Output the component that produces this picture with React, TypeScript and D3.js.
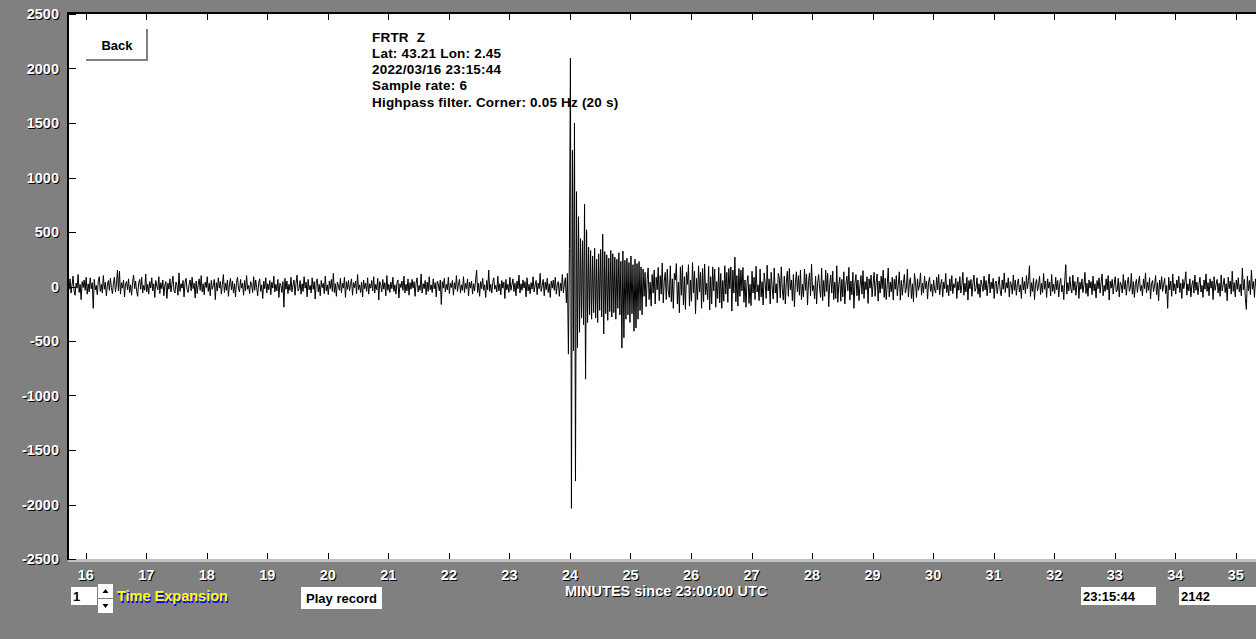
import React from "react";
import * as d3 from "d3";

// ---- data ----
const yTicks = [2500, 2000, 1500, 1000, 500, 0, -500, -1000, -1500, -2000, -2500];
const xTicks = [16, 17, 18, 19, 20, 21, 22, 23, 24, 25, 26, 27, 28, 29, 30, 31, 32, 33, 34, 35];
const headerLines = [
  "FRTR  Z",
  "Lat: 43.21 Lon: 2.45",
  "2022/03/16 23:15:44",
  "Sample rate: 6",
  "Highpass filter. Corner: 0.05 Hz (20 s)",
];
const sampleSeconds = 1;
const preEventStart = 15.708;
const eventStart = 23.958;
const codaStart = 25.208;
const postEventStart = 26.808;

const preEvent = [
  40, -25, 70, -60, 15, 95, -40, -80, 30, -15, 110, -55, 20, -120, 45, -10, 60, -35, 85, -70,
  25, -50, 80, -20, 35, -200, 65, -30, 10, -75, 50, 90, -45, 20, -60, 100, -25, 40, -85, 15,
  55, -35, 75, -10, -65, 30, 85, -50, 20, 150, -40, 140, -70, 35, -15, 60, -95, 25, 45, -30,
  70, -55, 15, -80, 40, 105, -20, 50, -45, -90, 30, 65, -25, 85, -60, 10, -35, 115, -50, 20,
  -70, 45, -15, 80, -40, 25, -100, 55, 5, -30, 90, -65, 35, -20, 60, -85, 15, 45, -110, 30,
  -25, 70, -50, 20, 95, -35, -60, 40, 10, -80, 125, -45, 25, -15, 55, -95, 35, 75, -30, -55,
  20, 60, -40, 85, -20, 30, -105, 50, -65, 15, 70, -35, 100, -50, 25, -75, 40, -10, 90, -45,
  30, -85, 55, -25, 10, 65, -120, 35, -40, 80, -15, 45, -70, 20, 110, -55, 30, -35, 60, -90,
  15, 75, -30, 50, -60, 25, -95, 40, 85, -20, -50, 65, -15, 30, -80, 55, -40, 100, -25, 10,
  -65, 45, 20, -55, 90, -35, 60, -10, -85, 35, 70, -45, 15, -110, 50, -20, 80, -60, 25, -30,
  55, -75, 40, -15, 95, -50, 20, -40, 65, -100, 30, 10, -55, 45, -190, 75, -25, 50, -65, 20,
  -35, 85, -50, 15, 60, -80, 30, 105, -40, -20, 55, -70, 25, -45, 90, -15, 40, -95, 65, -30,
  10, -60, 80, -25, 45, -115, 35, 70, -50, 20, -85, 55, -10, 30, -65, 95, -40, 15, -75, 50,
  -20, 65, -45, 120, -55, 25, -90, 40, 10, -35, 75, -60, 30, -15, 85, -100, 45, -25, 55, -40,
  20, 70, -80, 35, -10, 50, -65, 110, -30, 15, -55, 40, -95, 60, -20, 30, -45, 80, -70, 25,
  -15, 55, -40, 90, -60, 20, -30, 75, -125, 45, 10, -50, 65, -25, 35, -85, 100, -35, 20, -55,
  40, -20, 85, -45, 15, -70, 30, 60, -105, 25, -10, 50, -35, 95, -60, 20, -40, 70, -80, 35,
  -25, 65, -15, 45, -90, 30, 80, -50, 10, -35, 115, -60, 25, -20, 55, -75, 40, -45, 90, -30,
  15, -55, 70, -20, 35, -95, 50, 25, -40, 60, -165, 45, -15, 75, -50, 20, -30, 85, -65, 30,
  -10, 55, -80, 35, -25, 100, -45, 20, 65, -60, 15, -35, 90, -55, 30, -20, 70, -85, 40, -15,
  50, -70, 25, -40, 60, 150, -55, 30, -90, 45, -20, 75, -35, 15, -100, 55, -30, 150, -45, 20,
  -60, 35, 80, -25, 10, -50, 95, -40, 25, -75, 55, -15, 40, -110, 65, -30, 20, -55, 85, -35,
  15, 70, -45, 30, -85, 50, -20, 105, -60, 25, -35, 60, -15, 45, -95, 80, -40, 20, -65, 35,
  -25, 90, -50, 15, 55, -75, 30, -20, 120, -45, 10, 65, -85, 40, -30, 75, -55, 25, -100, 50,
  -15, 60, -35, 85, -70, 20, 45, -90, 30, -40, 110, -60, 25, 80, -150,
];

const eventBurst = [
  120, -620, 350, 2095, -2035, 1250, -590, 1500, -1785, 870, -560, 640, -420, 440, -290, 420, -350, 755, -850, 520, -330,
  360, -260, 330, -300, 280, -240, 350, -290, 250, -330, 300, -220, 340, -280,
  480, -435, 320, -250, 290, -310, 260, -230, 330, -280,
  300, -240, 270, -300, 250, -200, 310, -260, 230, -565,
  325, -470, 240, -300, 260, -260, 220, -330, 280, -250,
  200, -410, 250, -380, 210, -300, 230, -220, 180, -260,
];

const coda = [
  160, -90, 130, -185, 60, 170, -120, 40, -180, 110, -60, 150, -160, 85, -30, 175, -130, 100, -70, 215,
  -150, 50, 130, -120, 160, -45, -100, 190, -140, 70,
  -200, 120, 60, 210, -160, 40, -240, 180, -80, 195,
  -170, 90, -210, 130, 20, 200, -180, 60, -135, 220,
  -60, 140, -250, 75, -120, 190, -50, 130, -200, 165,
  -140, 205, -75, 30, -120, 185, -215, 90, -160, 180,
  -40, 160, -190, 45, -110, 175, -150, 120, -200, 55,
  -135, 190, -70, 130, -145, 165, -20, 180, -225, 150,
  -60, 270, -140, 100, -180, 165,
];

const postEvent = [
  -90, 150, -40, 175, -145, 60, -190, 35, 100, -155, 20, -175, 140, -60,
  85, -120, 185, -50, 15, -130, 160, -95, 45, -170, 125, 30, -110, 195, -40, 70, -160, 130, -15, -115,
  170, -60, 25, -150, 120, 80, -105, 180, -25, -125, 95, -160, 40, 140, -90, 165, -30, 60, -130, 110,
  -185, 35, 135, -50, 100, -80, 150, -120, 20, -95, 160, -35, 115, -170, 45, 125, -85, 205, -40, 10,
  -115, 95, -160, 30, 110, -20, -100, 170, -130, 55, -90, 150, -45, 120, -185, 25, 105, -60, 140, -120,
  40, -110, 190, -145, 15, 85, -135, 65, -95, 135, -160, 20, 95, -40, 175, -125, 50, -75, 130, -200,
  30, 110, -85, 60, -130, 10, 100, -70, 145, -110, 45, -30, 90, -155, 70, -15, 105, -95, 25, 130,
  -90, 35, 115, -135, 50, -60, 95, -20, 150, -100, 75, -120, 15, 170, -95, 40, -50, 85, -125, 65,
  -25, 100, -85, 20, 135, -125, 55, -80, 30, 110, -60, -15, 160, -95, 40, 80, -110, 25, -140, 120,
  45, -100, 70, -35, 15, 125, -80, 30, -60, 95, -20, 50, -115, 40, 85, -45, 20, -90, 60, -30,
  -60, 85, -30, 110, -75, 20, 65, -95, 40, -20, 120, -55, 15, -85, 70, -40, 100, -65, 25, -10,
  75, -110, 45, -35, 90, -60, 10, 130, -80, 30, -50, 85, -125, 55, -20, 65, -90, 35, 105, -45,
  -15, 80, -70, 25, -100, 60, 15, -45, 95, -30, 55, -85, 20, 115, -60, 40, -20, 75, -110, 30,
  50, -65, 10, 90, -40, -85, 60, -25, 125, -55, 35, -15, 80, -95, 45, 20, -70, 105, -35, 60,
  -80, 25, 70, -50, 15, -110, 85, -30, 45, -65, 100, -20, 55, 190, -90, 35, -45, 75, -120, 20,
  65, -40, 15, 95, -75, 30, -55, 120, -25, 50, -100, 70, -15, 40, -85, 110, -45, 20, -65, 85,
  -30, 55, -95, 25, 75, -50, 10, -120, 60, 200, -70, 35, -40, 90, -20, -60, 105, -35, 45, -80,
  20, 85, -110, 40, -25, 70, -55, 15, 130, -65, 30, -90, 60, -15, 45, -75, 95, -40, 25, -105,
  55, -20, 80, -60, 35, 115, -85, 10, -45, 70, -30, 100, -125, 50, -15, 65, -70, 25, 90, -50,
  -35, 75, -95, 40, 15, -60, 110, -25, 55, -80, 30, 85, -45, -15, 120, -70, 45, -100, 20, 65,
  -55, 30, 95, -40, 10, -85, 70, -20, 125, -60, 40, -35, 80, -115, 25, 55, -50, 15, 100, -75,
  35, -130, 60, -25, 90, -45, 20, 75, -65, 10, -200, 85, -30, 50, -90, 115, -40, 25, -70, 60,
  -15, 95, -55, 30, -110, 65, -20, 45, 135, -80, 25, -40, 70, -95, 15, 55, -60, 105, -35, 40,
  -75, 20, 85, -50, 10, -100, 60, -25, 115, -45, 35, -85, 70, -15, 50, -120, 90, -35, 20, 65,
  -60, 30, -90, 105, -40, 15, 75, -55, 25, -130, 85, -20, 50, -70, 140, -45, 35, -95, 60, -25,
  80, -50, 20, -85, 170, -30, 65, -110, -210, 95, -40, 55, -75, 150, -25, 45, -100, 70, -15, 90,
  -60, 35, -120, 80, -45, 25, -90, 65, -30, 55,
];

const traceSegments: [number, number[]][] = [
  [preEventStart, preEvent],
  [eventStart, eventBurst],
  [codaStart, coda],
  [postEventStart, postEvent],
];

const FONT = "'Liberation Sans', Arial, sans-serif";

function ShadowText(props: {
  x: number; y: number; text: string; anchor?: string; fill?: string; shadow?: string; dx?: number; dy?: number; size?: number;
}) {
  const { x, y, text, anchor = "start", fill = "#fff", shadow = "#000", dx = 1, dy = 1, size = 14.5 } = props;
  return (
    <g fontFamily={FONT} fontSize={size} fontWeight="bold" textAnchor={anchor as any} dominantBaseline="central">
      <text x={x + dx} y={y + dy} fill={shadow}>{text}</text>
      <text x={x} y={y} fill={fill}>{text}</text>
    </g>
  );
}

export default function App() {
  const W = 1256, H = 639;
  const plotLeft = 68, plotTop = 13, plotBottom = 559;
  const x = d3.scaleLinear().domain([16, 35]).range([85.7, 1235.8]);
  const y = d3.scaleLinear().domain([-2500, 2500]).range([559, 14]);

  const pts: [number, number][] = [];
  traceSegments.forEach(([start, vals]) => {
    vals.forEach((v, i) => pts.push([start + (i * sampleSeconds) / 60, v]));
  });
  const line = d3.line<[number, number]>().x((d) => x(d[0])).y((d) => y(d[1]));

  return (
    <svg width={W} height={H} style={{ position: "absolute", left: 0, top: 0, display: "block" }}>
      <defs>
        <clipPath id="plotclip">
          <rect x={plotLeft + 1} y={plotTop + 1} width={W - plotLeft} height={plotBottom - plotTop - 1} />
        </clipPath>
      </defs>
      <rect x={0} y={0} width={W} height={H} fill="#808080" />
      {/* plot area */}
      <rect x={plotLeft} y={plotTop} width={W - plotLeft} height={plotBottom - plotTop} fill="#fff" />
      <rect x={plotLeft} y={plotBottom} width={W - plotLeft} height={3} fill="#c0c0c0" />
      {/* borders */}
      <rect x={plotLeft} y={plotTop - 1} width={W - plotLeft} height={2} fill="#000" />
      <rect x={plotLeft - 1} y={plotTop - 1} width={2} height={plotBottom - plotTop + 2} fill="#000" />

      {/* y ticks */}
      {yTicks.map((t) => (
        <g key={"y" + t}>
          <line x1={plotLeft} x2={plotLeft + 8} y1={Math.round(y(t)) + 0.5} y2={Math.round(y(t)) + 0.5} stroke="#000" />
          <ShadowText x={59} y={y(t)} text={String(t)} anchor="end" />
        </g>
      ))}
      {/* x ticks */}
      {xTicks.map((t) => (
        <g key={"x" + t}>
          <line x1={Math.round(x(t)) + 0.5} x2={Math.round(x(t)) + 0.5} y1={plotTop + 1} y2={plotTop + 7} stroke="#000" />
          <line x1={Math.round(x(t)) + 0.5} x2={Math.round(x(t)) + 0.5} y1={plotBottom - 6} y2={plotBottom} stroke="#000" />
          <ShadowText x={x(t)} y={575} text={String(t)} anchor="middle" />
        </g>
      ))}

      {/* trace */}
      <g clipPath="url(#plotclip)">
        <path d={line(pts) || ""} fill="none" stroke="#000" strokeWidth={1} />
      </g>

      {/* header */}
      <g fontFamily={FONT} fontSize={13.5} fontWeight="bold" fill="#000" letterSpacing={0.2}>
        {headerLines.map((s, i) => (
          <text key={i} x={372} y={37 + i * 16.3} dominantBaseline="central">{s.replace(/ {2}/g, " \u00a0")}</text>
        ))}
      </g>

      {/* Back button */}
      <rect x={86} y={29} width={62} height={32} fill="#fff" />
      <rect x={86} y={59} width={62} height={2} fill="#808080" />
      <rect x={146} y={29} width={2} height={32} fill="#808080" />
      <text x={117} y={45} fontFamily={FONT} fontSize={13} fontWeight="bold" textAnchor="middle" dominantBaseline="central" fill="#000">Back</text>

      {/* bottom controls */}
      <rect x={71} y={587} width={26} height={18} fill="#fff" />
      <text x={73} y={596} fontFamily={FONT} fontSize={13} fontWeight="bold" dominantBaseline="central" fill="#000">1</text>
      <rect x={98} y={584} width={15} height={14} fill="#fff" />
      <rect x={98} y={599} width={15} height={14} fill="#fff" />
      <path d="M102.5,593 L105.5,589 L108.5,593 Z" fill="#000" />
      <path d="M102.5,604 L105.5,608 L108.5,604 Z" fill="#000" />
      <ShadowText x={117} y={596} text="Time Expansion" fill="#ffff00" shadow="#0000ff" dx={1} dy={2} />

      <rect x={301} y={587} width={81} height={22} fill="#fff" />
      <text x={341.5} y={598} fontFamily={FONT} fontSize={13} fontWeight="bold" textAnchor="middle" dominantBaseline="central" fill="#000">Play record</text>

      <ShadowText x={565} y={591} text="MINUTES since 23:00:00 UTC" />

      <rect x={1081} y={587} width={75} height={18} fill="#fff" />
      <text x={1083} y={596} fontFamily={FONT} fontSize={13} fontWeight="bold" dominantBaseline="central" fill="#000">23:15:44</text>
      <rect x={1179} y={587} width={77} height={18} fill="#fff" />
      <text x={1181} y={596} fontFamily={FONT} fontSize={13} fontWeight="bold" dominantBaseline="central" fill="#000">2142</text>
    </svg>
  );
}
